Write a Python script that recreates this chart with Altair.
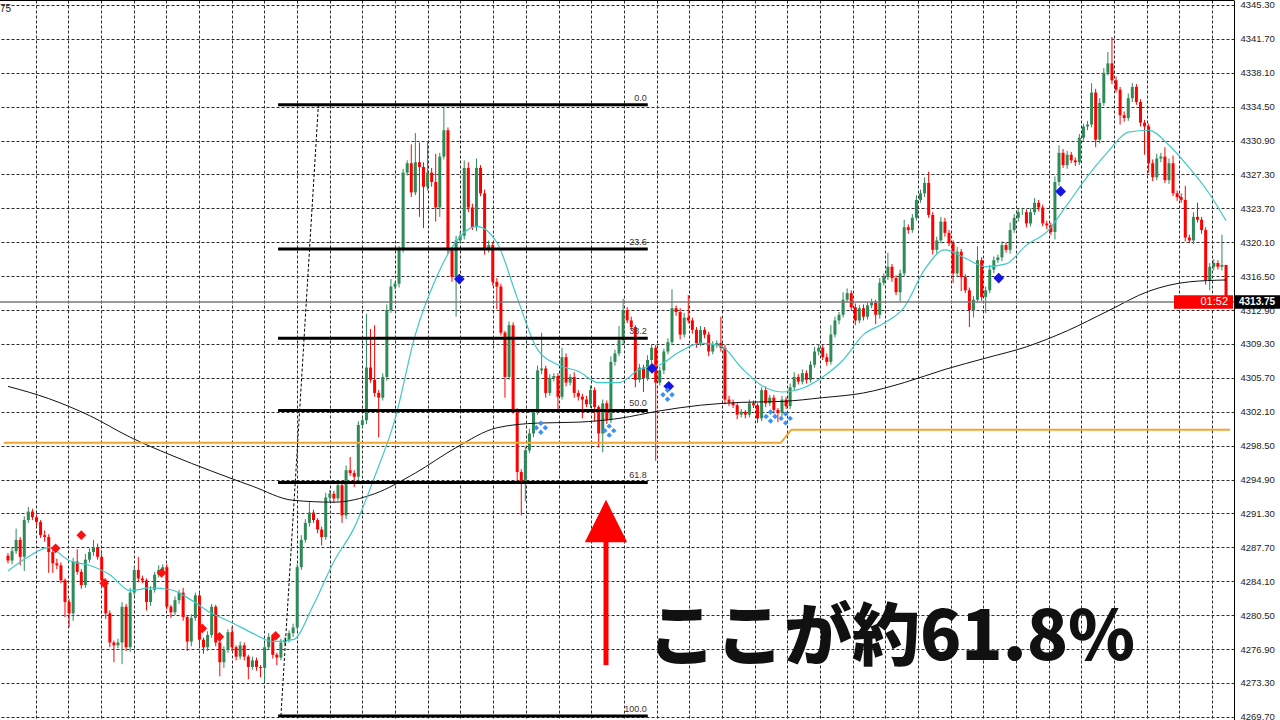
import altair as alt
import pandas as pd

# ---------------- price data (one candle per bar) ----------------
first_open = 4286.8
closes = [
    4286.3, 4287.3, 4288.5, 4286.7, 4290.6, 4291.5, 4290.9, 4290.4, 4289.0, 4288.8,
    4287.2, 4286.0, 4285.8, 4284.2, 4281.9, 4280.7, 4286.2, 4285.1, 4283.7, 4286.4,
    4287.2, 4287.7, 4286.7, 4284.2, 4280.7, 4277.6, 4277.3, 4277.6, 4281.4, 4277.1,
    4282.9, 4285.3, 4284.4, 4284.2, 4281.9, 4283.2, 4284.8, 4285.3, 4285.6, 4281.4,
    4280.8, 4282.1, 4282.9, 4280.3, 4277.7, 4280.2, 4282.6, 4277.9, 4277.1, 4278.4,
    4281.4, 4277.6, 4275.5, 4276.8, 4278.7, 4277.1, 4276.1, 4277.3, 4276.1, 4275.0,
    4275.7, 4275.0, 4274.9, 4277.1, 4278.2, 4276.3, 4276.0, 4277.6, 4277.9, 4278.6,
    4279.2, 4285.6, 4288.5, 4290.3, 4291.4, 4290.6, 4289.6, 4288.8, 4293.0, 4293.4,
    4292.9, 4294.3, 4291.1, 4295.9, 4295.6, 4295.2, 4300.7, 4301.2, 4306.8, 4305.5,
    4304.1, 4303.6, 4305.8, 4312.9, 4315.4, 4315.7, 4319.3, 4327.5, 4328.5, 4325.4,
    4328.6, 4328.1, 4326.0, 4327.5, 4326.5, 4323.8, 4329.2, 4332.0, 4319.3, 4316.4,
    4320.3, 4320.8, 4328.0, 4323.8, 4321.7, 4328.0, 4325.3, 4319.3, 4319.8, 4315.9,
    4315.4, 4310.5, 4305.8, 4311.3, 4302.3, 4295.7, 4294.6, 4298.0, 4299.8, 4302.1,
    4306.5, 4306.7, 4304.1, 4305.7, 4305.9, 4303.7, 4307.9, 4305.2, 4305.8, 4304.1,
    4303.7, 4303.4, 4302.9, 4304.4, 4302.6, 4299.8, 4303.0, 4301.2, 4307.4, 4308.3,
    4309.7, 4312.9, 4311.8, 4311.1, 4305.5, 4306.8, 4305.7, 4307.6, 4308.9, 4305.2,
    4306.5, 4308.5, 4309.5, 4313.1, 4312.7, 4310.3, 4312.1, 4311.8, 4310.8, 4309.4,
    4310.8, 4310.3, 4308.5, 4309.2, 4309.4, 4308.9, 4303.4, 4303.1, 4302.8, 4301.8,
    4302.1, 4301.8, 4303.0, 4302.8, 4301.4, 4304.4, 4303.0, 4303.6, 4302.3, 4302.0,
    4303.4, 4302.7, 4304.7, 4305.8, 4305.3, 4306.2, 4305.5, 4307.1, 4308.5, 4308.9,
    4307.9, 4307.4, 4310.3, 4311.8, 4312.4, 4314.0, 4314.7, 4313.2, 4311.8, 4313.1,
    4312.2, 4313.4, 4313.7, 4312.4, 4315.8, 4316.4, 4317.5, 4316.3, 4314.8, 4316.8,
    4321.7, 4321.4, 4322.7, 4324.6, 4325.3, 4326.4, 4323.0, 4319.3, 4320.3, 4322.3,
    4321.1, 4320.0, 4316.8, 4319.1, 4316.4, 4315.0, 4312.9, 4314.0, 4318.2, 4314.3,
    4315.0, 4317.2, 4318.2, 4318.5, 4319.8, 4319.3, 4321.4, 4322.7, 4323.3, 4323.3,
    4322.1, 4323.3, 4324.3, 4323.8, 4322.1, 4321.9, 4321.2, 4326.5, 4329.6, 4328.3,
    4329.4, 4328.8, 4328.6, 4331.2, 4332.4, 4332.6, 4336.0, 4331.0, 4334.9, 4338.1,
    4339.1, 4337.3, 4336.3, 4333.6, 4333.3, 4335.4, 4336.6, 4335.0, 4332.8, 4332.4,
    4328.5, 4327.0, 4329.0, 4329.2, 4326.7, 4328.5, 4325.3, 4324.9, 4324.6, 4320.6,
    4320.3, 4322.8, 4322.5, 4321.4, 4316.1, 4317.5, 4317.9, 4317.5, 4317.7, 4313.75,
]
# wick length above the body top / below the body bottom
upper_wick = [
    0.3, 0.4, 1.2, 0.3, 0.4, 0.5, 0.3, 0.3, 0.2, 0.5,
    0.3, 0.2, 0.5, 0.3, 0.2, 0.3, 0.4, 1.3, 0.3, 0.6,
    0.4, 0.8, 0.4, 0.3, 0.2, 0.3, 0.2, 0.4, 0.5, 0.3,
    0.5, 0.4, 1.4, 0.3, 0.2, 0.4, 0.3, 0.5, 0.3, 0.3,
    0.2, 0.4, 0.3, 0.5, 0.2, 0.4, 0.3, 0.3, 0.2, 0.4,
    0.3, 0.2, 0.3, 0.4, 0.3, 0.6, 0.2, 0.4, 0.3, 0.2,
    0.4, 0.3, 0.2, 0.5, 0.4, 0.3, 0.2, 0.4, 0.3, 0.3,
    0.4, 0.3, 0.5, 0.4, 1.1, 0.3, 0.2, 0.3, 0.5, 0.4,
    0.3, 0.5, 0.2, 0.5, 1.4, 0.3, 0.4, 0.3, 5.7, 4.1,
    5.8, 0.3, 0.4, 0.6, 0.8, 0.2, 0.4, 0.4, 0.3, 2.0,
    3.1, 2.1, 0.5, 3.2, 0.5, 3.0, 0.4, 2.4, 0.3, 0.3,
    0.5, 0.4, 0.8, 0.6, 0.4, 1.0, 0.3, 0.4, 0.5, 0.3,
    0.4, 0.3, 0.2, 0.4, 0.3, 0.2, 0.3, 0.4, 0.5, 0.3,
    0.5, 3.8, 0.3, 0.4, 0.3, 0.3, 1.0, 0.4, 0.3, 0.5,
    0.3, 0.3, 0.4, 0.5, 0.3, 0.2, 0.4, 0.3, 0.6, 0.4,
    1.5, 1.2, 0.3, 0.4, 0.2, 0.4, 0.3, 0.5, 0.4, 0.3,
    0.4, 0.3, 0.4, 2.0, 0.3, 0.4, 0.5, 2.4, 0.3, 0.3,
    0.4, 0.3, 0.3, 0.4, 0.3, 2.8, 0.3, 0.4, 0.3, 0.2,
    0.3, 0.2, 0.4, 0.3, 0.2, 0.3, 0.4, 0.3, 0.3, 0.2,
    0.4, 0.3, 0.4, 0.5, 0.3, 0.4, 0.3, 0.4, 0.5, 0.3,
    0.3, 0.4, 1.0, 0.4, 0.3, 0.8, 0.5, 0.3, 0.4, 0.3,
    0.4, 0.3, 0.4, 0.3, 0.5, 0.4, 1.5, 0.3, 0.3, 0.4,
    0.8, 0.3, 0.4, 0.5, 0.4, 0.6, 1.2, 0.3, 0.4, 0.5,
    0.4, 0.3, 0.3, 0.5, 0.3, 0.3, 0.3, 0.4, 1.5, 0.3,
    0.4, 0.5, 0.4, 0.3, 0.4, 0.3, 0.8, 0.4, 0.3, 0.4,
    0.3, 0.4, 0.5, 0.3, 0.3, 0.3, 0.3, 0.6, 0.8, 0.4,
    0.4, 0.3, 0.3, 0.4, 0.3, 0.4, 1.0, 0.4, 0.5, 0.5,
    1.2, 2.8, 0.4, 0.3, 0.4, 0.5, 0.4, 0.3, 0.3, 0.3,
    0.3, 0.4, 0.5, 0.4, 1.0, 0.5, 0.8, 0.3, 0.4, 1.5,
    0.3, 0.5, 1.5, 0.3, 0.3, 0.4, 0.4, 0.3, 3.2, 0.0,
]
lower_wick = [
    0.3, 0.4, 0.3, 0.9, 1.5, 0.3, 0.3, 0.4, 0.3, 0.5,
    2.2, 1.0, 0.4, 0.3, 1.6, 1.5, 0.8, 0.3, 0.4, 0.3,
    0.3, 0.4, 0.3, 0.8, 0.6, 0.5, 1.8, 0.3, 2.3, 0.4,
    0.5, 0.3, 0.4, 0.3, 0.9, 0.4, 0.3, 0.3, 0.4, 0.3,
    0.6, 0.3, 0.4, 0.4, 1.0, 0.5, 0.3, 0.8, 0.7, 0.4,
    0.3, 0.4, 1.5, 0.6, 0.3, 0.4, 0.4, 0.3, 0.4, 1.3,
    0.3, 0.4, 1.0, 1.5, 0.3, 0.4, 0.8, 0.3, 0.4, 0.3,
    0.4, 0.3, 0.3, 0.3, 0.4, 0.3, 0.4, 0.9, 0.3, 0.4,
    0.5, 0.3, 0.8, 0.4, 0.3, 1.1, 0.4, 0.3, 0.4, 0.3,
    0.4, 4.2, 0.3, 0.4, 0.3, 0.3, 0.4, 0.3, 0.3, 0.5,
    0.3, 5.3, 4.4, 0.4, 0.5, 1.5, 1.0, 0.3, 0.4, 0.5,
    4.2, 0.3, 0.4, 0.5, 0.3, 0.4, 0.3, 0.5, 0.3, 0.4,
    2.4, 0.3, 2.2, 0.3, 0.4, 1.0, 3.5, 2.0, 0.3, 0.4,
    0.3, 0.4, 0.5, 0.3, 0.4, 1.5, 0.3, 0.4, 0.3, 0.5,
    0.4, 2.0, 0.3, 0.4, 1.5, 1.5, 2.0, 0.4, 0.3, 0.4,
    0.3, 0.4, 0.3, 0.4, 0.8, 0.3, 1.5, 0.3, 0.4, 8.3,
    0.3, 0.4, 0.3, 0.3, 0.4, 0.5, 0.3, 0.3, 0.4, 0.5,
    0.3, 0.4, 0.5, 0.3, 0.3, 0.4, 0.5, 0.4, 0.3, 0.5,
    0.3, 0.4, 0.3, 0.3, 0.5, 0.3, 0.4, 0.3, 0.4, 1.0,
    0.4, 0.3, 0.3, 0.4, 0.3, 0.3, 0.4, 0.3, 0.3, 0.4,
    0.3, 0.4, 0.3, 0.3, 0.4, 0.3, 0.3, 0.4, 0.5, 0.3,
    0.4, 0.3, 0.3, 1.0, 0.4, 0.3, 0.3, 0.4, 0.3, 1.0,
    0.3, 0.4, 0.3, 0.3, 0.3, 0.4, 0.3, 0.5, 0.4, 0.3,
    0.4, 0.3, 1.0, 0.4, 1.5, 0.3, 1.8, 0.8, 0.3, 0.4,
    1.7, 0.3, 0.4, 0.3, 0.4, 0.3, 0.4, 0.3, 0.4, 0.3,
    0.4, 0.3, 0.3, 0.4, 0.3, 0.4, 0.3, 0.8, 0.4, 0.3,
    0.4, 0.3, 0.4, 0.3, 0.3, 0.4, 0.3, 0.8, 0.4, 0.3,
    0.3, 0.4, 0.3, 1.0, 0.4, 0.3, 0.4, 0.3, 0.4, 3.0,
    1.0, 0.4, 0.3, 0.4, 0.3, 0.4, 0.3, 0.4, 0.3, 0.4,
    0.3, 0.4, 0.3, 0.4, 0.5, 1.1, 0.4, 0.3, 0.4, 0.3,
]

# ---------------- indicator lines ----------------
fast_ma_bars = list(range(0, 300, 5)) + [299]
fast_ma_values = [
    4285.2, 4286.7, 4287.7, 4286.3, 4285.8, 4284.8, 4283.1, 4283.4, 4283.2, 4282.1,
    4280.7, 4279.7, 4278.6, 4277.7, 4277.9, 4281.6, 4286.2, 4289.8, 4295.2, 4301.3,
    4310.3, 4316.2, 4320.2, 4321.8, 4320.1, 4314.2, 4308.7, 4307.1, 4306.4, 4305.2,
    4305.2, 4306.6, 4307.1, 4308.5, 4309.4, 4309.1, 4306.8, 4304.9, 4304.2, 4304.6,
    4305.8, 4307.6, 4310.3, 4311.5, 4313.2, 4317.2, 4319.3, 4318.4, 4317.5, 4317.8,
    4319.8, 4321.2, 4324.1, 4327.1, 4329.7, 4331.8, 4332.0, 4330.4, 4328.0, 4325.2,
    4322.4,
]
slow_ma_bars = list(range(0, 300, 10)) + [299]
slow_ma_values = [
    4304.8, 4303.5, 4301.7, 4299.4, 4297.5, 4295.8, 4294.2, 4292.7, 4292.5, 4293.4,
    4295.6, 4298.3, 4300.4, 4300.9, 4301.0, 4301.4, 4302.2, 4302.8, 4303.1, 4303.2,
    4303.6, 4304.1, 4305.2, 4306.6, 4307.8, 4309.0, 4310.7, 4312.8, 4314.9, 4315.9,
    4316.1,
]
level_bars = [-1.0, 189.7, 192.3, 300.0]
level_values = [4298.8, 4298.8, 4300.2, 4300.2]

# ---------------- Fibonacci retracement ----------------
fib_start_bar, fib_end_bar = 66.3, 157.05
fib_high, fib_low = 4334.7, 4269.8
fib_levels = [0.0, 23.6, 38.2, 50.0, 61.8, 100.0]
fib_trend_end_bar = 76.2

# ---------------- signal markers ----------------
sell_bars = [11.7, 18.0, 23.6, 37.7, 47.7, 51.9, 65.7]
sell_prices = [4287.6, 4289.0, 4283.9, 4285.0, 4279.1, 4278.2, 4278.3]
buy_bars = [110.8, 158.1, 162.2, 243.2, 258.4]
buy_prices = [4316.2, 4306.7, 4304.8, 4316.3, 4325.5]
cluster_bars = [130.8, 147.6, 161.9, 187.2, 190.9]
cluster_prices = [4300.4, 4300.1, 4303.9, 4301.6, 4301.4]

# ---------------- annotation ----------------
note_text = "ここが約61.8%"
note_bar, note_price = 157.1, 4277.9
arrow_bar, arrow_tip, arrow_base, arrow_tail = 146.8, 4292.7, 4288.3, 4275.2
timer_text = "01:52"

price_ticks = [
    4269.70, 4273.30, 4276.90, 4280.50, 4284.10, 4287.70, 4291.30, 4294.90,
    4298.50, 4302.10, 4305.70, 4309.30, 4312.90, 4316.50, 4320.10, 4323.70,
    4327.30, 4330.90, 4334.50, 4338.10, 4341.70, 4345.30,
]
time_grid = [6.82 + 8.02 * k for k in range(37)]

# ---------------- tables ----------------
opens = [first_open] + closes[:-1]
candles = pd.DataFrame({
    "bar": list(range(len(closes))),
    "open": opens,
    "close": closes,
})
candles["high"] = [max(o, c) + w for o, c, w in zip(opens, closes, upper_wick)]
candles["low"] = [min(o, c) - w for o, c, w in zip(opens, closes, lower_wick)]
candles["dir"] = ["up" if c >= o else "down" for o, c in zip(opens, closes)]

fast_df = pd.DataFrame({"bar": fast_ma_bars, "value": fast_ma_values})
slow_df = pd.DataFrame({"bar": slow_ma_bars, "value": slow_ma_values})
level_df = pd.DataFrame({"bar": level_bars, "value": level_values})

fib_df = pd.DataFrame({
    "x0": fib_start_bar,
    "x1": fib_end_bar,
    "price": [fib_high - (fib_high - fib_low) * lv / 100 for lv in fib_levels],
    "label": [f"{lv:.1f}" for lv in fib_levels],
})
trend_df = pd.DataFrame({"bar": [fib_start_bar + 0.7, fib_trend_end_bar], "value": [fib_low, fib_high]})

sell_df = pd.DataFrame({"bar": sell_bars, "value": sell_prices})
buy_df = pd.DataFrame({"bar": buy_bars, "value": buy_prices})
cluster_df = pd.DataFrame({"bar": cluster_bars, "value": cluster_prices})

last_price = closes[-1]
tag_df = pd.DataFrame({
    "price": [last_price],
    "top": [last_price + 0.72],
    "bottom": [last_price - 0.72],
    "label": [f"{last_price:.2f}"],
    "timer": [timer_text],
})
note_df = pd.DataFrame({"bar": [note_bar], "value": [note_price], "text": [note_text]})
arrow_df = pd.DataFrame({
    "bar": [arrow_bar],
    "tip": [arrow_tip],
    "base": [arrow_base],
    "tail": [arrow_tail],
    "head_mid": [(arrow_tip + arrow_base) / 2],
})
one = pd.DataFrame({"k": [0]})

# ---------------- scales / axes ----------------
GRID = "#2a2a2a"
xscale = alt.Scale(domain=[-0.73, 299.73], nice=False, zero=False)
yscale = alt.Scale(domain=[4269.37, 4345.83], nice=False, zero=False)
xaxis = alt.Axis(values=time_grid, labels=False, ticks=False, domain=False, title=None,
                 grid=True, gridDash=[3, 2], gridColor=GRID, gridOpacity=1, gridWidth=1,
                 orient="bottom")
yaxis = alt.Axis(values=price_ticks, orient="right", format=".2f", title=None,
                 grid=True, gridDash=[3, 2], gridColor=GRID, gridOpacity=1, gridWidth=1,
                 ticks=False, domain=True, domainColor="#000000", domainWidth=1,
                 labelFont="Liberation Sans", labelFontSize=9.5, labelColor="#222222",
                 labelPadding=6, labelOverlap=False)


def X(field):
    return alt.X(field, type="quantitative", scale=xscale, axis=xaxis)


def Y(field):
    return alt.Y(field, type="quantitative", scale=yscale, axis=yaxis)


candle_color = alt.Color("dir:N", scale=alt.Scale(domain=["up", "down"], range=["#2e8b57", "#ff0000"]),
                         legend=None)

wicks = alt.Chart(candles).mark_rule(strokeWidth=1).encode(
    x=X("bar"), y=Y("low"), y2="high", color=candle_color)
bodies = alt.Chart(candles).mark_bar(size=3).encode(
    x=X("bar"), y=Y("open"), y2="close", color=candle_color)

slow_line = alt.Chart(slow_df).mark_line(color="#111111", strokeWidth=1, interpolate="monotone").encode(
    x=X("bar"), y=Y("value"))
fast_line = alt.Chart(fast_df).mark_line(color="#40c8c8", strokeWidth=1.2, interpolate="monotone").encode(
    x=X("bar"), y=Y("value"))
level_line = alt.Chart(level_df).mark_line(color="#f2a531", strokeWidth=2, clip=True).encode(
    x=X("bar"), y=Y("value"))

price_line = alt.Chart(tag_df).mark_rule(color="#7a7a7a", strokeWidth=1.5).encode(y=Y("price"))

fib_lines = alt.Chart(fib_df).mark_rule(color="#000000", strokeWidth=3).encode(
    x=X("x0"), x2="x1", y=Y("price"))
fib_labels = alt.Chart(fib_df).mark_text(align="right", baseline="bottom", dy=-2, dx=-1,
                                         font="Liberation Sans", fontSize=9, color="#333333").encode(
    x=X("x1"), y=Y("price"), text="label")
fib_trend = alt.Chart(trend_df).mark_line(color="#000000", strokeWidth=1, strokeDash=[3, 2]).encode(
    x=X("bar"), y=Y("value"))

sell_marks = alt.Chart(sell_df).mark_point(shape="diamond", filled=True, size=95, color="#ff1010",
                                           opacity=1).encode(x=X("bar"), y=Y("value"))
buy_marks = alt.Chart(buy_df).mark_point(shape="diamond", filled=True, size=115, color="#1515e6",
                                         opacity=1).encode(x=X("bar"), y=Y("value"))
cluster_layers = [
    alt.Chart(cluster_df).mark_point(shape="diamond", filled=True, size=30, color="#3d8ff2", opacity=1,
                                     xOffset=dx, yOffset=dy).encode(x=X("bar"), y=Y("value"))
    for dx, dy in [(0, -4.5), (4.5, 0), (0, 4.5), (-4.5, 0)]
]

arrow_shaft = alt.Chart(arrow_df).mark_rule(color="#ff0000", strokeWidth=5).encode(
    x=X("bar"), y=Y("base"), y2="tail")
arrow_head = alt.Chart(arrow_df).mark_point(shape="M0,-1L1,1L-1,1Z", filled=True, size=1800,
                                            color="#ff0000", opacity=1, strokeWidth=0).encode(
    x=X("bar"), y=Y("head_mid"))
note = alt.Chart(note_df).mark_text(align="left", baseline="middle", font="Noto Sans CJK JP",
                                    fontSize=68, fontWeight=900, color="#111111").encode(
    x=X("bar"), y=Y("value"), text="text")

timer_box = alt.Chart(tag_df).mark_rect(color="#ff0000").encode(
    x=alt.value(1174), x2=alt.value(1233), y=Y("top"), y2="bottom")
timer_label = alt.Chart(tag_df).mark_text(align="right", baseline="middle", font="Liberation Sans",
                                          fontSize=11, color="#ffffff").encode(
    x=alt.value(1228), y=Y("price"), text="timer")
price_box = alt.Chart(tag_df).mark_rect(color="#000000").encode(
    x=alt.value(1235), x2=alt.value(1280), y=Y("top"), y2="bottom")
price_label = alt.Chart(tag_df).mark_text(align="left", baseline="middle", font="Liberation Sans",
                                          fontSize=10, fontWeight="bold", color="#ffffff").encode(
    x=alt.value(1239), y=Y("price"), text="label")

top_border = alt.Chart(one).mark_rule(color="#000000", strokeWidth=1).encode(
    x=alt.value(0), x2=alt.value(1234), y=alt.value(0.5))
corner_text = alt.Chart(one).mark_text(align="left", baseline="middle", font="Liberation Sans",
                                       fontSize=10, color="#222222").encode(
    x=alt.value(0), y=alt.value(9), text=alt.value("75"))

chart = alt.layer(
    wicks, bodies, slow_line, fast_line, level_line, price_line,
    fib_lines, fib_labels, fib_trend,
    sell_marks, buy_marks, *cluster_layers,
    arrow_shaft, arrow_head, note,
    timer_box, timer_label, price_box, price_label,
    top_border, corner_text,
).properties(
    width=1234,
    height=720,
    padding={"left": 0, "top": 0, "right": 46, "bottom": 0},
    autosize=alt.AutoSizeParams(type="none"),
    background="#ffffff",
).configure_view(stroke=None)

chart.save("out.html", embed_options={"renderer": "svg", "actions": False})
